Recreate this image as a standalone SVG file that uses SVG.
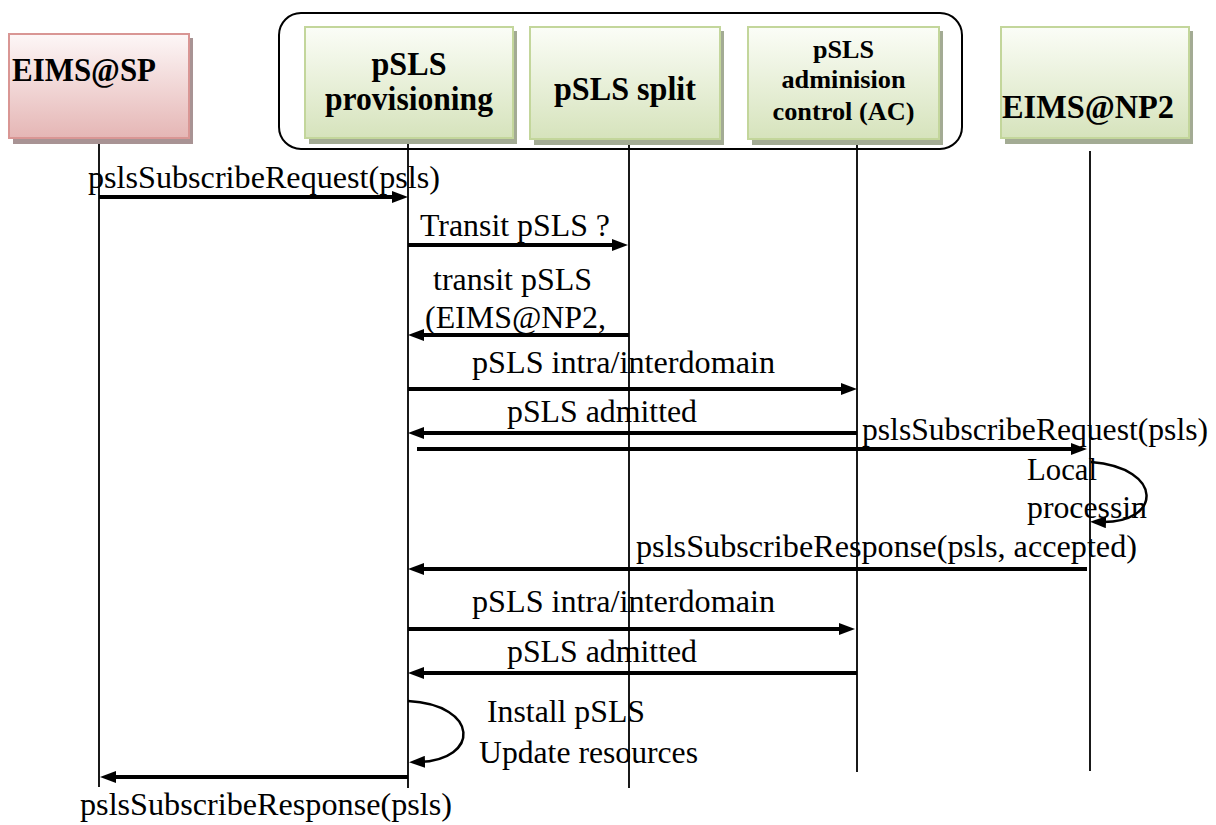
<svg xmlns="http://www.w3.org/2000/svg" width="1216" height="825" viewBox="0 0 1216 825">
<style>
text{font-family:'Liberation Serif','Times New Roman',serif;fill:#000}
.msg{font-size:32px}
.hdr{font-size:34px;font-weight:bold}
.hdrs{font-size:26px;font-weight:bold}
.life{stroke:#000;stroke-width:1.8;fill:none}
.arr{stroke:#000;stroke-width:4;fill:none;marker-end:url(#ah)}
.loop{stroke:#000;stroke-width:2.5;fill:none;marker-end:url(#ah)}
.gbox{fill:url(#gg);stroke:#c3d69b;stroke-width:2}
.pbox{fill:url(#pg);stroke:#d99694;stroke-width:2}
.gsh{fill:#a3ab94}
.psh{fill:#a89394}
</style>
<defs>
<linearGradient id="gg" x1="0" y1="0" x2="0" y2="1">
<stop offset="0" stop-color="#fbfdf7"/>
<stop offset="1" stop-color="#d6e3bc"/>
</linearGradient>
<linearGradient id="pg" x1="0" y1="0" x2="0" y2="1">
<stop offset="0" stop-color="#fdf7f7"/>
<stop offset="1" stop-color="#e5b6b5"/>
</linearGradient>
<marker id="ah" viewBox="0 0 16 12" refX="6" refY="6" markerWidth="16" markerHeight="12" markerUnits="userSpaceOnUse" orient="auto">
<path d="M0 0 L16 6 L0 12 z" fill="#000"/>
</marker>
</defs>
<rect width="1216" height="825" fill="#fff"/>

<rect id="container" x="279" y="13" width="683" height="136" rx="22" ry="22" fill="none" stroke="#000" stroke-width="2"/>

<g id="lifelines">
<line class="life" x1="99" y1="138" x2="99" y2="787"/>
<line class="life" x1="408" y1="139" x2="408" y2="788"/>
<line class="life" x1="629" y1="139" x2="629" y2="788"/>
<line class="life" x1="857" y1="139" x2="857" y2="772"/>
<line class="life" x1="1090" y1="151" x2="1090" y2="771"/>
</g>

<g id="node-eims-sp">
<rect class="psh" x="13" y="38" width="180" height="106"/>
<rect class="pbox" x="9" y="34" width="180" height="104"/>
<text class="hdr" x="12" y="81" textLength="144" lengthAdjust="spacingAndGlyphs">EIMS@SP</text>
</g>
<g id="node-provisioning">
<rect class="gsh" x="309" y="31" width="208" height="113"/>
<rect class="gbox" x="305" y="27" width="208" height="111"/>
<text class="hdr" x="409" y="75" text-anchor="middle" textLength="75" lengthAdjust="spacingAndGlyphs">pSLS</text>
<text class="hdr" x="409" y="110" text-anchor="middle" textLength="168" lengthAdjust="spacingAndGlyphs">provisioning</text>
</g>
<g id="node-split">
<rect class="gsh" x="534" y="31" width="190" height="114"/>
<rect class="gbox" x="530" y="27" width="190" height="112"/>
<text class="hdr" x="625" y="100" text-anchor="middle" textLength="142" lengthAdjust="spacingAndGlyphs">pSLS split</text>
</g>
<g id="node-ac">
<rect class="gsh" x="752" y="31" width="191" height="114"/>
<rect class="gbox" x="748" y="27" width="191" height="112"/>
<text class="hdrs" x="843.5" y="58" text-anchor="middle" textLength="61" lengthAdjust="spacingAndGlyphs">pSLS</text>
<text class="hdrs" x="843.5" y="88" text-anchor="middle" textLength="124" lengthAdjust="spacingAndGlyphs">adminision</text>
<text class="hdrs" x="843.5" y="120" text-anchor="middle" textLength="142" lengthAdjust="spacingAndGlyphs">control (AC)</text>
</g>
<g id="node-eims-np2">
<rect class="gsh" x="1005" y="31" width="188" height="113"/>
<rect class="gbox" x="1001" y="27" width="188" height="111"/>
<text class="hdr" x="1002" y="118" textLength="172" lengthAdjust="spacingAndGlyphs">EIMS@NP2</text>
</g>

<g id="connectors">
<path class="arr" d="M99 197 L398 197"/>
<path class="arr" d="M408 245 L618 245"/>
<path class="arr" d="M629 335 L418 335"/>
<path class="arr" d="M408 389 L847 389"/>
<path class="arr" d="M857 433 L418 433"/>
<path class="arr" d="M417 449 L1077 449"/>
<path class="loop" d="M1091 462 C1165 468 1162 524 1100 522"/>
<path class="arr" d="M1087 569 L418 569"/>
<path class="arr" d="M408 629 L845 629"/>
<path class="arr" d="M857 673 L418 673"/>
<path class="loop" d="M408 701 C480 705 480 760 419 762"/>
<path class="arr" d="M408 777 L110 777"/>
</g>

<g id="labels">
<text class="msg" x="88" y="188" textLength="352" lengthAdjust="spacingAndGlyphs">pslsSubscribeRequest(psls)</text>
<text class="msg" x="420" y="236" textLength="190" lengthAdjust="spacingAndGlyphs">Transit pSLS ?</text>
<text class="msg" x="433" y="290" textLength="159" lengthAdjust="spacingAndGlyphs">transit pSLS</text>
<text class="msg" x="425" y="328" textLength="181" lengthAdjust="spacingAndGlyphs">(EIMS@NP2,</text>
<text class="msg" x="472" y="373" textLength="303" lengthAdjust="spacingAndGlyphs">pSLS intra/interdomain</text>
<text class="msg" x="507" y="422" textLength="190" lengthAdjust="spacingAndGlyphs">pSLS admitted</text>
<text class="msg" x="862" y="440" textLength="346" lengthAdjust="spacingAndGlyphs">pslsSubscribeRequest(psls)</text>
<text class="msg" x="1027" y="480" textLength="70" lengthAdjust="spacingAndGlyphs">Local</text>
<text class="msg" x="1027" y="518" textLength="120" lengthAdjust="spacingAndGlyphs">processin</text>
<text class="msg" x="636" y="557" textLength="501" lengthAdjust="spacingAndGlyphs">pslsSubscribeResponse(psls, accepted)</text>
<text class="msg" x="472" y="612" textLength="303" lengthAdjust="spacingAndGlyphs">pSLS intra/interdomain</text>
<text class="msg" x="507" y="662" textLength="190" lengthAdjust="spacingAndGlyphs">pSLS admitted</text>
<text class="msg" x="487" y="722" textLength="158" lengthAdjust="spacingAndGlyphs">Install pSLS</text>
<text class="msg" x="479" y="763" textLength="219" lengthAdjust="spacingAndGlyphs">Update resources</text>
<text class="msg" x="80" y="815" textLength="372" lengthAdjust="spacingAndGlyphs">pslsSubscribeResponse(psls)</text>
</g>
</svg>
